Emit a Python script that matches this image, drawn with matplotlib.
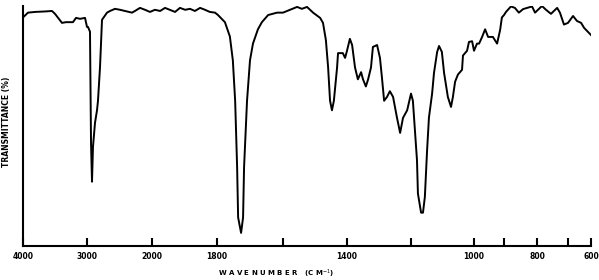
import numpy as np
import matplotlib
matplotlib.use("Agg")
import matplotlib.pyplot as plt

# IR spectrum (wavenumber in cm-1, transmittance in %)
wavenumber = [4000, 3922, 3813, 3656, 3547, 3500, 3391, 3328, 3219, 3172, 3109, 3031, 3000,
              2985, 2954, 2938, 2923, 2908, 2877, 2846, 2831, 2800, 2769, 2692, 2646, 2569,
              2492, 2415, 2308, 2262, 2185, 2108, 2031,
              1991, 1975, 1960, 1945, 1929, 1914, 1898, 1883, 1868, 1852, 1837, 1822, 1806,
              1797, 1776, 1761, 1752, 1745, 1739, 1736, 1727, 1721, 1718, 1709, 1700, 1691,
              1676, 1664, 1645, 1618, 1600,
              1578, 1556, 1541, 1525, 1506, 1484, 1475, 1466, 1459, 1453, 1447, 1441, 1431,
              1428, 1413, 1406,
              1400, 1391, 1384, 1375, 1366, 1356, 1350, 1341, 1334, 1325, 1319, 1306, 1297,
              1291, 1284, 1275, 1266, 1256, 1244, 1234, 1225, 1212, 1200,
              1194, 1187, 1181, 1178, 1168, 1162, 1156, 1149, 1143, 1133, 1127, 1117, 1111,
              1102, 1095, 1083, 1073, 1067, 1060, 1051, 1038, 1035, 1022, 1016, 1006,
              1000, 990, 983, 973, 963, 953, 937, 923, 913, 907,
              900, 894, 879, 867, 855, 842, 815, 806,
              784, 771, 755, 735, 726, 713, 700,
              678, 661, 643, 630, 600]
transmittance = [96, 98, 98.3, 98.5, 98.7, 97.5, 93.7, 94, 94, 95.8, 95.4, 95.8, 92,
                 92, 90, 43, 27, 41.6, 51.7, 57, 61, 75, 95, 98, 98.7, 99.6,
                 99.2, 98.7, 98, 98.7, 100, 99.2, 98.3,
                 99.2, 98.7, 100, 99.2, 98.3, 100, 99.2, 99.6, 98.7, 100, 99.2, 98.3, 98,
                 97, 94, 88, 78, 61, 33, 12, 5.5, 12, 33, 61, 78, 85,
                 91, 94, 97, 98, 98,
                 99.2, 100.4, 99.6, 100.4, 98, 95.8, 93.7, 86.5, 75, 61, 57, 61, 75,
                 81, 81, 79,
                 82, 87, 84.4, 75, 70, 73, 70, 67, 70, 75, 83.6, 84.4, 79,
                 71, 61, 62.6, 65, 62.6, 54, 47.5, 53.8, 57, 64,
                 61, 47.5, 36, 22, 14, 14, 20.6, 40, 54, 64, 72.7, 81.5, 84,
                 81.5, 72.7, 62.6, 58.4, 62.6, 69, 72, 74, 80, 82, 85.7, 86,
                 82, 85, 85, 87.8, 91, 87.8, 87.8, 85, 90.7, 96,
                 97, 98.3, 100.6, 100, 98, 99.5, 100.6, 98,
                 100.8, 99.2, 97.5, 100, 98, 93, 93.7,
                 96.6, 94.5, 93.7, 91.6, 88.6]

# chart paper grid: 4000-2000 compressed, 2000-600 expanded
tick_wn = [4000, 3000, 2000, 1800, 1600, 1400, 1200, 1000, 900, 800, 700, 600]
tick_grid = [23, 87, 152, 217, 283, 347, 411, 474, 504, 537, 568, 591]
tick_labels = ['4000', '3000', '2000', '1800', '', '1400', '', '1000', '', '800', '', '600']

wn_a = np.array(tick_wn, dtype=float)
gr_a = np.array(tick_grid, dtype=float)


# increasing in wavenumber, so the axis is inverted by set_xlim(4000, 600)
def forward(w):
    return -np.interp(w, wn_a[::-1], gr_a[::-1])


def inverse(g):
    return np.interp(-np.asarray(g), gr_a, wn_a)


fig = plt.figure(figsize=(5.99, 2.8), dpi=100)
ax = fig.add_axes([23 / 599, 34 / 280, (591 - 23) / 599, (246 - 5.5) / 280])

ax.set_xscale('function', functions=(forward, inverse))
ax.plot(wavenumber, transmittance, color='black', linewidth=1.4)
ax.set_xlim(4000, 600)
ax.set_ylim(0, 101)

ax.spines['top'].set_visible(False)
ax.spines['right'].set_visible(False)
ax.spines['left'].set_linewidth(1.5)
ax.spines['bottom'].set_linewidth(1.5)

ax.set_xticks(tick_wn)
ax.set_xticklabels(tick_labels, fontsize=5.5, fontweight='bold')
ax.xaxis.set_minor_locator(matplotlib.ticker.NullLocator())
ax.tick_params(axis='x', direction='in', length=6, width=1.5, pad=4)
ax.set_yticks([])

ax.set_xlabel('W A V E N U M B E R   (C M$^{-1}$)', fontsize=5, fontweight='bold')
ax.xaxis.set_label_coords((276 - 23) / 568, -0.09)
fig.text(7 / 599, 1 - 122 / 280, 'TRANSMITTANCE (%)', rotation=90,
         ha='center', va='center', fontsize=5.5, fontweight='bold')

fig.savefig('out.png', dpi=100)
